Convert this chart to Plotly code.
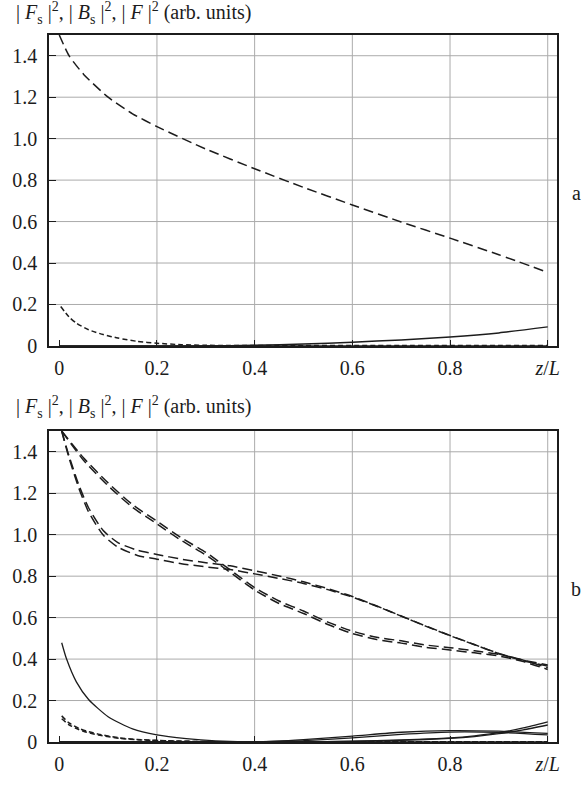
import plotly.graph_objects as go

# ---- panel a ----
za_long = [0, 0.02, 0.05, 0.1, 0.15, 0.2, 0.3, 0.4, 0.5, 0.6, 0.7, 0.8, 0.9, 1.0]
fa_long = [1.5, 1.4, 1.31, 1.2, 1.12, 1.058, 0.95, 0.855, 0.765, 0.68, 0.598, 0.52, 0.44, 0.355]

za_short = [0.003, 0.02, 0.035, 0.06, 0.09, 0.12, 0.16, 0.2, 0.25, 0.3, 0.5, 0.7, 1.0]
fa_short = [0.19, 0.14, 0.11, 0.078, 0.055, 0.038, 0.022, 0.013, 0.006, 0.003, 0.002, 0.002, 0.002]

za_solid = [0, 0.2, 0.35, 0.4, 0.5, 0.6, 0.7, 0.8, 0.9, 1.0]
fa_solid = [0, 0, 0.001, 0.003, 0.009, 0.018, 0.029, 0.043, 0.063, 0.092]

z_flat = [0, 1.0]
f_flat = [0, 0]

# ---- panel b ----
zb_A = [0.005, 0.05, 0.1, 0.15, 0.2, 0.25, 0.3, 0.35, 0.4, 0.45, 0.5, 0.55, 0.6, 0.65, 0.7, 0.75, 0.8, 0.85, 0.9, 0.95, 1.0]
fb_A1 = [1.5, 1.37, 1.25, 1.145, 1.065, 0.985, 0.915, 0.83, 0.745, 0.68, 0.632, 0.578, 0.535, 0.505, 0.488, 0.468, 0.455, 0.44, 0.423, 0.395, 0.358]
fb_A2 = [1.5, 1.358, 1.236, 1.132, 1.052, 0.972, 0.902, 0.818, 0.733, 0.668, 0.62, 0.567, 0.523, 0.494, 0.477, 0.457, 0.444, 0.43, 0.415, 0.388, 0.35]

zb_B = [0.005, 0.02, 0.04, 0.06, 0.09, 0.12, 0.16, 0.2, 0.25, 0.3, 0.35, 0.4, 0.45, 0.5, 0.55, 0.6, 0.65, 0.7, 0.75, 0.8, 0.85, 0.9, 0.95, 1.0]
fb_B1 = [1.5, 1.38, 1.24, 1.13, 1.02, 0.962, 0.925, 0.905, 0.882, 0.865, 0.85, 0.826, 0.801, 0.773, 0.74, 0.702, 0.656, 0.608, 0.56, 0.514, 0.47, 0.427, 0.395, 0.372]
fb_B2 = [1.5, 1.37, 1.225, 1.11, 0.998, 0.94, 0.9, 0.882, 0.86, 0.845, 0.832, 0.811, 0.789, 0.765, 0.735, 0.699, 0.655, 0.607, 0.559, 0.513, 0.469, 0.426, 0.392, 0.366]

zb_S1 = [0.005, 0.015, 0.035, 0.06, 0.1, 0.15, 0.2, 0.26, 0.32, 0.38, 0.45, 0.5, 0.6, 0.7, 0.8, 0.9, 1.0]
fb_S1 = [0.479, 0.40, 0.29, 0.205, 0.122, 0.063, 0.034, 0.016, 0.005, 0.001, 0.004, 0.011, 0.028, 0.047, 0.055, 0.052, 0.042]
zb_S2 = [0, 0.3, 0.4, 0.5, 0.6, 0.7, 0.8, 0.9, 1.0]
fb_S2 = [0, 0, 0.001, 0.007, 0.02, 0.037, 0.048, 0.046, 0.034]

zb_R = [0, 0.5, 0.6, 0.7, 0.8, 0.85, 0.9, 0.95, 1.0]
fb_R1 = [0, 0.001, 0.004, 0.01, 0.02, 0.03, 0.045, 0.068, 0.097]
fb_R2 = [0, 0.001, 0.003, 0.008, 0.017, 0.026, 0.04, 0.059, 0.082]

zb_D = [0.005, 0.02, 0.04, 0.056, 0.08, 0.123, 0.16, 0.2, 0.25, 0.3, 0.5, 0.7, 1.0]
fb_D1 = [0.126, 0.092, 0.066, 0.052, 0.038, 0.02, 0.012, 0.008, 0.004, 0.002, 0.001, 0.001, 0.001]
fb_D2 = [0.112, 0.083, 0.06, 0.047, 0.034, 0.018, 0.011, 0.007, 0.004, 0.002, 0.001, 0.001, 0.001]

x_ticks = [0, 0.2, 0.4, 0.6, 0.8, 1.0]
x_labels = ["0", "0.2", "0.4", "0.6", "0.8", "<i>z</i>/<i>L</i>"]
y_ticks = [0, 0.2, 0.4, 0.6, 0.8, 1.0, 1.2, 1.4]
y_labels = ["0", "0.2", "0.4", "0.6", "0.8", "1.0", "1.2", "1.4"]
x_grid = [0.2, 0.4, 0.6, 0.8, 1.0]
y_grid = [0.2, 0.4, 0.6, 0.8, 1.0, 1.2, 1.4]

ink = "#1c1c1c"
LONG = "10px,5px"
SHORT = "5px,3px"
FONT = "Liberation Serif, Times New Roman, DejaVu Serif, serif"

fig = go.Figure()


def curve(x, y, dash, axes, width=1.5):
    fig.add_trace(go.Scatter(
        x=x, y=y, mode="lines", xaxis=axes[0], yaxis=axes[1],
        line=dict(color=ink, width=width, dash=dash, shape="spline", smoothing=0.6),
        showlegend=False, hoverinfo="skip"))


A = ("x", "y")
B = ("x2", "y2")

curve(z_flat, f_flat, "solid", A)
curve(za_solid, fa_solid, "solid", A)
curve(za_short, fa_short, SHORT, A)
curve(za_long, fa_long, LONG, A)

curve(z_flat, f_flat, "solid", B)
curve(zb_R, fb_R1, "solid", B, 1.3)
curve(zb_R, fb_R2, "solid", B, 1.3)
curve(zb_S2, fb_S2, "solid", B, 1.3)
curve(zb_S1, fb_S1, "solid", B, 1.3)
curve(zb_D, fb_D1, SHORT, B)
curve(zb_D, fb_D2, SHORT, B)
curve(zb_A, fb_A1, LONG, B)
curve(zb_A, fb_A2, LONG, B)
curve(zb_B, fb_B1, LONG, B)
curve(zb_B, fb_B2, LONG, B)

# grid lines (no grid at the origin, as in the source)
shapes = []
for xr, yr in [("x", "y"), ("x2", "y2")]:
    for g in x_grid:
        shapes.append(dict(type="line", xref=xr, yref=yr + " domain", x0=g, x1=g, y0=0, y1=1,
                           line=dict(color="#ababab", width=1), layer="below"))
    for g in y_grid:
        shapes.append(dict(type="line", xref=xr + " domain", yref=yr, x0=0, x1=1, y0=g, y1=g,
                           line=dict(color="#ababab", width=1), layer="below"))

xax = dict(range=[-0.021, 1.019], tickvals=x_ticks, ticktext=x_labels, ticks="inside", ticklen=6,
           tickcolor=ink, showgrid=False, zeroline=False, showline=True, linecolor=ink, linewidth=1.5,
           mirror=True, tickfont=dict(family=FONT, size=20, color=ink), ticklabelstandoff=3)
yax = dict(range=[0, 1.5], tickvals=y_ticks, ticktext=y_labels, ticks="inside", ticklen=7,
           tickcolor=ink, showgrid=False, zeroline=False, showline=True, linecolor=ink, linewidth=1.5,
           mirror=True, tickfont=dict(family=FONT, size=20, color=ink), ticklabelstandoff=6)

ytitle = ("| <i>F</i><sub>s</sub> |<sup>2</sup>, | <i>B</i><sub>s</sub> |<sup>2</sup>, "
          "| <i>F</i> |<sup>2</sup> (arb. units)")

fig.update_layout(
    width=588, height=787,
    margin=dict(l=42, r=31, t=35, b=29),
    paper_bgcolor="white", plot_bgcolor="white",
    xaxis=dict(xax, domain=[0, 1], anchor="y"),
    yaxis=dict(yax, domain=[0.5602, 1], anchor="x"),
    xaxis2=dict(xax, domain=[0, 1], anchor="y2"),
    yaxis2=dict(yax, domain=[0, 0.4398], anchor="x2"),
    shapes=shapes,
    annotations=[
        dict(text=ytitle, xref="paper", yref="paper", x=0, y=1, xshift=-35, yshift=6,
             xanchor="left", yanchor="bottom", showarrow=False,
             font=dict(family=FONT, size=20, color=ink)),
        dict(text=ytitle, xref="paper", yref="paper", x=0, y=0.4398, xshift=-35, yshift=8,
             xanchor="left", yanchor="bottom", showarrow=False,
             font=dict(family=FONT, size=20, color=ink)),
        dict(text="a", xref="paper", yref="y", x=1, y=0.74, xshift=26, showarrow=False,
             font=dict(family=FONT, size=20, color=ink)),
        dict(text="b", xref="paper", yref="y2", x=1, y=0.74, xshift=26, showarrow=False,
             font=dict(family=FONT, size=20, color=ink)),
    ],
)

fig.write_html("out.html", config={"displayModeBar": False},
               post_script="document.body.style.margin='0';document.body.style.overflow='hidden';")
